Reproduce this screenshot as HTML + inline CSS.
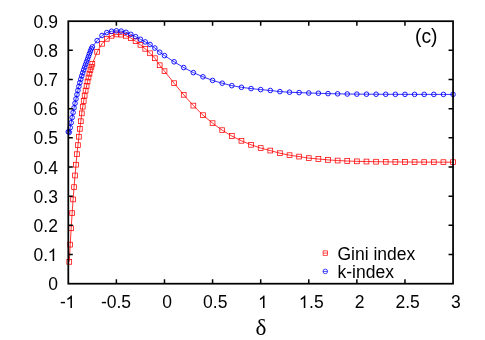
<!DOCTYPE html>
<html><head><meta charset="utf-8"><title>chart</title><style>html,body{margin:0;padding:0;background:#fff;overflow:hidden}body{width:485px;height:340px;font-family:"Liberation Sans",sans-serif}</style></head><body>
<svg width="485" height="340" viewBox="0 0 485 340" style="display:block;will-change:transform">
<rect x="0" y="0" width="485" height="340" fill="#fff"/>
<polyline points="69.26,261.82 70.22,244.62 71.19,228.28 72.15,213.12 73.11,199.41 74.07,187.16 75.03,175.49 75.99,164.70 76.96,154.20 77.92,145.16 78.88,136.70 79.84,128.82 80.80,121.24 81.77,113.37 82.73,106.66 83.69,100.96 84.65,95.62 85.61,90.63 86.58,85.96 87.54,81.60 88.50,77.53 89.46,73.69 90.42,70.10 91.38,66.79 92.35,63.78 97.16,51.82 101.97,43.80 106.78,38.82 111.58,35.78 116.39,34.41 121.20,34.62 126.01,35.78 130.82,38.00 135.63,41.21 140.44,44.83 145.25,48.82 150.06,53.28 154.87,58.24 159.68,65.24 164.49,71.19 174.11,83.21 183.72,94.79 193.34,105.61 202.96,115.20 212.58,123.20 222.20,130.20 231.82,136.00 241.44,140.78 251.06,144.81 260.68,148.07 270.29,150.55 279.91,153.21 289.53,155.19 299.15,156.59 308.77,158.14 318.39,159.01 328.01,159.89 337.62,160.56 347.24,161.00 356.86,161.35 366.48,161.54 376.10,161.71 385.72,161.84 395.34,161.95 404.96,162.02 414.58,162.07 424.19,162.12 433.81,162.16 443.43,162.18 453.05,162.19" fill="none" stroke="#ff0000" stroke-width="0.8"/>
<g fill="none" stroke="#ff0000" stroke-width="0.75"><rect x="66.86" y="259.43" width="4.8" height="4.8"/><rect x="67.82" y="242.22" width="4.8" height="4.8"/><rect x="68.79" y="225.88" width="4.8" height="4.8"/><rect x="69.75" y="210.72" width="4.8" height="4.8"/><rect x="70.71" y="197.01" width="4.8" height="4.8"/><rect x="71.67" y="184.76" width="4.8" height="4.8"/><rect x="72.63" y="173.09" width="4.8" height="4.8"/><rect x="73.59" y="162.30" width="4.8" height="4.8"/><rect x="74.56" y="151.80" width="4.8" height="4.8"/><rect x="75.52" y="142.76" width="4.8" height="4.8"/><rect x="76.48" y="134.30" width="4.8" height="4.8"/><rect x="77.44" y="126.42" width="4.8" height="4.8"/><rect x="78.40" y="118.84" width="4.8" height="4.8"/><rect x="79.37" y="110.97" width="4.8" height="4.8"/><rect x="80.33" y="104.26" width="4.8" height="4.8"/><rect x="81.29" y="98.56" width="4.8" height="4.8"/><rect x="82.25" y="93.22" width="4.8" height="4.8"/><rect x="83.21" y="88.23" width="4.8" height="4.8"/><rect x="84.18" y="83.56" width="4.8" height="4.8"/><rect x="85.14" y="79.20" width="4.8" height="4.8"/><rect x="86.10" y="75.13" width="4.8" height="4.8"/><rect x="87.06" y="71.29" width="4.8" height="4.8"/><rect x="88.02" y="67.70" width="4.8" height="4.8"/><rect x="88.98" y="64.39" width="4.8" height="4.8"/><rect x="89.95" y="61.38" width="4.8" height="4.8"/><rect x="94.76" y="49.42" width="4.8" height="4.8"/><rect x="99.57" y="41.40" width="4.8" height="4.8"/><rect x="104.38" y="36.42" width="4.8" height="4.8"/><rect x="109.18" y="33.38" width="4.8" height="4.8"/><rect x="113.99" y="32.01" width="4.8" height="4.8"/><rect x="118.80" y="32.22" width="4.8" height="4.8"/><rect x="123.61" y="33.38" width="4.8" height="4.8"/><rect x="128.42" y="35.60" width="4.8" height="4.8"/><rect x="133.23" y="38.81" width="4.8" height="4.8"/><rect x="138.04" y="42.43" width="4.8" height="4.8"/><rect x="142.85" y="46.42" width="4.8" height="4.8"/><rect x="147.66" y="50.88" width="4.8" height="4.8"/><rect x="152.47" y="55.84" width="4.8" height="4.8"/><rect x="157.28" y="62.84" width="4.8" height="4.8"/><rect x="162.09" y="68.79" width="4.8" height="4.8"/><rect x="171.71" y="80.81" width="4.8" height="4.8"/><rect x="181.32" y="92.39" width="4.8" height="4.8"/><rect x="190.94" y="103.21" width="4.8" height="4.8"/><rect x="200.56" y="112.80" width="4.8" height="4.8"/><rect x="210.18" y="120.80" width="4.8" height="4.8"/><rect x="219.80" y="127.80" width="4.8" height="4.8"/><rect x="229.42" y="133.60" width="4.8" height="4.8"/><rect x="239.04" y="138.38" width="4.8" height="4.8"/><rect x="248.66" y="142.41" width="4.8" height="4.8"/><rect x="258.28" y="145.67" width="4.8" height="4.8"/><rect x="267.89" y="148.15" width="4.8" height="4.8"/><rect x="277.51" y="150.81" width="4.8" height="4.8"/><rect x="287.13" y="152.79" width="4.8" height="4.8"/><rect x="296.75" y="154.19" width="4.8" height="4.8"/><rect x="306.37" y="155.74" width="4.8" height="4.8"/><rect x="315.99" y="156.61" width="4.8" height="4.8"/><rect x="325.61" y="157.49" width="4.8" height="4.8"/><rect x="335.23" y="158.16" width="4.8" height="4.8"/><rect x="344.84" y="158.60" width="4.8" height="4.8"/><rect x="354.46" y="158.95" width="4.8" height="4.8"/><rect x="364.08" y="159.14" width="4.8" height="4.8"/><rect x="373.70" y="159.31" width="4.8" height="4.8"/><rect x="383.32" y="159.44" width="4.8" height="4.8"/><rect x="392.94" y="159.55" width="4.8" height="4.8"/><rect x="402.56" y="159.62" width="4.8" height="4.8"/><rect x="412.18" y="159.67" width="4.8" height="4.8"/><rect x="421.79" y="159.72" width="4.8" height="4.8"/><rect x="431.41" y="159.76" width="4.8" height="4.8"/><rect x="441.03" y="159.78" width="4.8" height="4.8"/><rect x="450.65" y="159.79" width="4.8" height="4.8"/></g>
<polyline points="68.30,131.74 69.26,132.32 70.22,127.66 71.19,122.69 72.15,117.55 73.11,112.50 74.07,107.79 75.03,103.28 75.99,98.86 76.96,94.55 77.92,90.40 78.88,86.43 79.84,82.69 80.80,79.20 81.77,75.94 82.73,72.86 83.69,69.94 84.65,67.13 85.61,64.41 86.58,61.75 87.54,59.12 88.50,56.42 89.46,53.70 90.42,51.11 91.38,48.78 92.35,46.87 97.16,40.60 101.97,35.49 106.78,32.57 111.58,31.26 116.39,30.83 121.20,31.12 126.01,32.28 130.82,34.32 135.63,36.66 140.44,39.28 145.25,41.91 150.06,44.53 154.87,48.03 159.68,52.20 164.49,55.62 174.11,61.80 183.72,67.58 193.34,72.62 202.96,76.82 212.58,80.41 222.20,83.21 231.82,85.66 241.44,87.32 251.06,88.57 260.68,89.60 270.29,90.47 279.91,91.61 289.53,92.22 299.15,92.60 308.77,93.01 318.39,93.24 328.01,93.62 337.62,93.82 347.24,94.00 356.86,94.12 366.48,94.19 376.10,94.24 385.72,94.29 395.34,94.33 404.96,94.35 414.58,94.37 424.19,94.38 433.81,94.40 443.43,94.41 453.05,94.41" fill="none" stroke="#0000ff" stroke-width="0.8"/>
<g fill="none" stroke="#0000ff" stroke-width="0.9"><circle cx="68.30" cy="131.74" r="2.3"/><circle cx="69.26" cy="132.32" r="2.3"/><circle cx="70.22" cy="127.66" r="2.3"/><circle cx="71.19" cy="122.69" r="2.3"/><circle cx="72.15" cy="117.55" r="2.3"/><circle cx="73.11" cy="112.50" r="2.3"/><circle cx="74.07" cy="107.79" r="2.3"/><circle cx="75.03" cy="103.28" r="2.3"/><circle cx="75.99" cy="98.86" r="2.3"/><circle cx="76.96" cy="94.55" r="2.3"/><circle cx="77.92" cy="90.40" r="2.3"/><circle cx="78.88" cy="86.43" r="2.3"/><circle cx="79.84" cy="82.69" r="2.3"/><circle cx="80.80" cy="79.20" r="2.3"/><circle cx="81.77" cy="75.94" r="2.3"/><circle cx="82.73" cy="72.86" r="2.3"/><circle cx="83.69" cy="69.94" r="2.3"/><circle cx="84.65" cy="67.13" r="2.3"/><circle cx="85.61" cy="64.41" r="2.3"/><circle cx="86.58" cy="61.75" r="2.3"/><circle cx="87.54" cy="59.12" r="2.3"/><circle cx="88.50" cy="56.42" r="2.3"/><circle cx="89.46" cy="53.70" r="2.3"/><circle cx="90.42" cy="51.11" r="2.3"/><circle cx="91.38" cy="48.78" r="2.3"/><circle cx="92.35" cy="46.87" r="2.3"/><circle cx="97.16" cy="40.60" r="2.3"/><circle cx="101.97" cy="35.49" r="2.3"/><circle cx="106.78" cy="32.57" r="2.3"/><circle cx="111.58" cy="31.26" r="2.3"/><circle cx="116.39" cy="30.83" r="2.3"/><circle cx="121.20" cy="31.12" r="2.3"/><circle cx="126.01" cy="32.28" r="2.3"/><circle cx="130.82" cy="34.32" r="2.3"/><circle cx="135.63" cy="36.66" r="2.3"/><circle cx="140.44" cy="39.28" r="2.3"/><circle cx="145.25" cy="41.91" r="2.3"/><circle cx="150.06" cy="44.53" r="2.3"/><circle cx="154.87" cy="48.03" r="2.3"/><circle cx="159.68" cy="52.20" r="2.3"/><circle cx="164.49" cy="55.62" r="2.3"/><circle cx="174.11" cy="61.80" r="2.3"/><circle cx="183.72" cy="67.58" r="2.3"/><circle cx="193.34" cy="72.62" r="2.3"/><circle cx="202.96" cy="76.82" r="2.3"/><circle cx="212.58" cy="80.41" r="2.3"/><circle cx="222.20" cy="83.21" r="2.3"/><circle cx="231.82" cy="85.66" r="2.3"/><circle cx="241.44" cy="87.32" r="2.3"/><circle cx="251.06" cy="88.57" r="2.3"/><circle cx="260.68" cy="89.60" r="2.3"/><circle cx="270.29" cy="90.47" r="2.3"/><circle cx="279.91" cy="91.61" r="2.3"/><circle cx="289.53" cy="92.22" r="2.3"/><circle cx="299.15" cy="92.60" r="2.3"/><circle cx="308.77" cy="93.01" r="2.3"/><circle cx="318.39" cy="93.24" r="2.3"/><circle cx="328.01" cy="93.62" r="2.3"/><circle cx="337.62" cy="93.82" r="2.3"/><circle cx="347.24" cy="94.00" r="2.3"/><circle cx="356.86" cy="94.12" r="2.3"/><circle cx="366.48" cy="94.19" r="2.3"/><circle cx="376.10" cy="94.24" r="2.3"/><circle cx="385.72" cy="94.29" r="2.3"/><circle cx="395.34" cy="94.33" r="2.3"/><circle cx="404.96" cy="94.35" r="2.3"/><circle cx="414.58" cy="94.37" r="2.3"/><circle cx="424.19" cy="94.38" r="2.3"/><circle cx="433.81" cy="94.40" r="2.3"/><circle cx="443.43" cy="94.41" r="2.3"/><circle cx="453.05" cy="94.41" r="2.3"/></g>
<rect x="68.3" y="21.2" width="384.75" height="262.5" fill="none" stroke="#000" stroke-width="1.75"/>
<path d="M116.39,283.7v-4.5M116.39,21.2v4.5M164.49,283.7v-4.5M164.49,21.2v4.5M212.58,283.7v-4.5M212.58,21.2v4.5M260.68,283.7v-4.5M260.68,21.2v4.5M308.77,283.7v-4.5M308.77,21.2v4.5M356.86,283.7v-4.5M356.86,21.2v4.5M404.96,283.7v-4.5M404.96,21.2v4.5M68.3,254.53h4.5M453.05,254.53h-4.5M68.3,225.37h4.5M453.05,225.37h-4.5M68.3,196.20h4.5M453.05,196.20h-4.5M68.3,167.03h4.5M453.05,167.03h-4.5M68.3,137.87h4.5M453.05,137.87h-4.5M68.3,108.70h4.5M453.05,108.70h-4.5M68.3,79.53h4.5M453.05,79.53h-4.5M68.3,50.37h4.5M453.05,50.37h-4.5" stroke="#000" stroke-width="1.5" fill="none"/>
<g font-family="Liberation Sans, sans-serif" font-size="17.5" fill="#000">
<text x="48.17" y="290.20">0</text>
<text x="33.57" y="261.03">0</text>
<text x="43.30" y="261.03">.</text>
<path d="M763 0H583V1147Q518 1085 412.5 1023Q307 961 223 930V1104Q374 1175 487 1276Q600 1377 647 1472H763Z" transform="translate(47.67,261.03) scale(0.00854,-0.00854)"/>
<text x="33.57" y="231.87">0</text>
<text x="43.30" y="231.87">.</text>
<text x="48.17" y="231.87">2</text>
<text x="33.57" y="202.70">0</text>
<text x="43.30" y="202.70">.</text>
<text x="48.17" y="202.70">3</text>
<text x="33.57" y="173.53">0</text>
<text x="43.30" y="173.53">.</text>
<text x="48.17" y="173.53">4</text>
<text x="33.57" y="144.37">0</text>
<text x="43.30" y="144.37">.</text>
<text x="48.17" y="144.37">5</text>
<text x="33.57" y="115.20">0</text>
<text x="43.30" y="115.20">.</text>
<text x="48.17" y="115.20">6</text>
<text x="33.57" y="86.03">0</text>
<text x="43.30" y="86.03">.</text>
<text x="48.17" y="86.03">7</text>
<text x="33.57" y="56.87">0</text>
<text x="43.30" y="56.87">.</text>
<text x="48.17" y="56.87">8</text>
<text x="33.57" y="27.70">0</text>
<text x="43.30" y="27.70">.</text>
<text x="48.17" y="27.70">9</text>
<text x="60.12" y="308.00">-</text>
<path d="M763 0H583V1147Q518 1085 412.5 1023Q307 961 223 930V1104Q374 1175 487 1276Q600 1377 647 1472H763Z" transform="translate(65.45,308.00) scale(0.00854,-0.00854)"/>
<text x="100.92" y="308.00">-</text>
<text x="106.74" y="308.00">0</text>
<text x="116.47" y="308.00">.</text>
<text x="121.34" y="308.00">5</text>
<text x="162.32" y="308.00">0</text>
<text x="203.12" y="308.00">0</text>
<text x="212.85" y="308.00">.</text>
<text x="217.71" y="308.00">5</text>
<path d="M763 0H583V1147Q518 1085 412.5 1023Q307 961 223 930V1104Q374 1175 487 1276Q600 1377 647 1472H763Z" transform="translate(258.01,308.00) scale(0.00854,-0.00854)"/>
<path d="M763 0H583V1147Q518 1085 412.5 1023Q307 961 223 930V1104Q374 1175 487 1276Q600 1377 647 1472H763Z" transform="translate(298.81,308.00) scale(0.00854,-0.00854)"/>
<text x="309.04" y="308.00">.</text>
<text x="313.90" y="308.00">5</text>
<text x="354.70" y="308.00">2</text>
<text x="395.49" y="308.00">2</text>
<text x="405.22" y="308.00">.</text>
<text x="410.09" y="308.00">5</text>
<text x="450.88" y="308.00">3</text>
</g>
<g font-family="Liberation Sans, sans-serif" font-size="17.5" fill="#000">
<text x="337.5" y="259.8">Gini index</text>
<text x="337.5" y="277.8">k-index</text>
<text x="415.0" y="43.1" font-size="19.3">(c)</text>
</g>
<text x="261" y="335.3" text-anchor="middle" font-family="Liberation Serif, serif" font-size="23.2" fill="#000">&#948;</text>
<rect x="323.1" y="250.9" width="4.4" height="4.4" fill="none" stroke="#ff0000" stroke-width="0.7"/><path d="M323.1,253.1h4.4" stroke="#ff0000" stroke-width="0.7"/>
<circle cx="325.3" cy="271.4" r="2.3" fill="none" stroke="#0000ff" stroke-width="0.7"/><path d="M323,271.4h4.6" stroke="#0000ff" stroke-width="0.7"/>
</svg>
</body></html>
